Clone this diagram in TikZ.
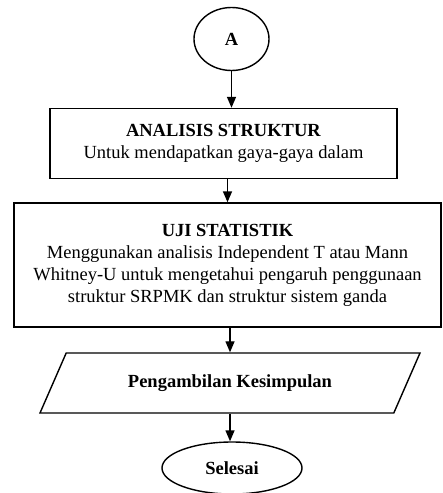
\documentclass[tikz,border=0pt]{standalone}
\usepackage{fontspec}
\setmainfont{Liberation Serif}
\usetikzlibrary{shapes.geometric,arrows.meta}
\tikzset{
  flow/.style={draw, line width=1.4pt, align=center, font=\fontsize{18.5}{22}\selectfont},
  prosesbox/.style={flow, rectangle},
  terminal/.style={flow, ellipse, font=\fontsize{18.5}{22}\selectfont\bfseries},
  datanode/.style={flow, trapezium, trapezium left angle=42, trapezium right angle=138,
    trapezium stretches body, font=\fontsize{18.5}{22}\selectfont\bfseries}
}
\begin{document}
\begin{tikzpicture}[x=1pt,y=-1pt,line width=1.4pt,>={Triangle[length=11pt,width=9pt]}]
  \useasboundingbox (0,0) rectangle (443,493);
  \node [terminal, minimum width=75pt, minimum height=63pt] (A) at (231.5,39) {A};
  \node [prosesbox, minimum width=347pt, minimum height=70pt] (analisis) at (223.5,143.5)
    {\textbf{ANALISIS STRUKTUR}\\Untuk mendapatkan gaya-gaya dalam};
  \node [prosesbox, minimum width=427pt, minimum height=124pt] (uji) at (227.5,265)
    {\textbf{UJI STATISTIK}\\Menggunakan analisis Independent T atau Mann\\
     Whitney-U untuk mengetahui pengaruh penggunaan\\struktur SRPMK dan struktur sistem ganda};
  \node [datanode, minimum width=380pt, minimum height=60pt] (simpul) at (230,383)
    {Pengambilan Kesimpulan};
  \node [terminal, minimum width=140pt, minimum height=52pt] (selesai) at (232,468) {Selesai};
  \draw [->] (A) -- (A |- analisis.north);
  \draw [->] (uji.north |- analisis.south) -- (uji.north);
  \draw [->] (uji.south -| simpul.north) -- (simpul.north);
  \draw [->] (simpul.south) -- (simpul.south |- selesai.north);
\end{tikzpicture}
\end{document}
